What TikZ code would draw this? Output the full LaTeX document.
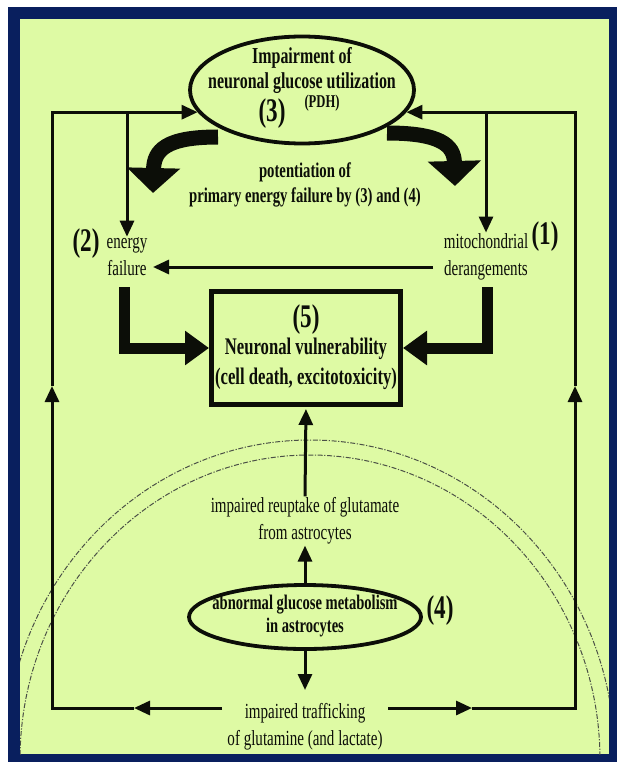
\documentclass[tikz,border=0pt]{standalone}
\usepackage{fontspec}
\setmainfont{Liberation Serif}
\newfontfamily\nrw[FakeStretch=0.7]{Liberation Serif}
\usetikzlibrary{arrows.meta,shapes.geometric}
\definecolor{panel}{RGB}{222,250,164}
\definecolor{frame}{RGB}{9,31,94}
\definecolor{ink}{RGB}{12,14,8}
\definecolor{arcgray}{RGB}{75,80,70}
\newcommand\txreg{\nrw\fontsize{21.5}{27}\selectfont}
\newcommand\txbold{\nrw\bfseries\fontsize{21}{24.5}\selectfont}
\newcommand\txtop{\nrw\bfseries\fontsize{22.8}{25}\selectfont}
\newcommand\txbox{\nrw\bfseries\fontsize{23.8}{30}\selectfont}
\newcommand\txoval{\nrw\bfseries\fontsize{20.8}{23}\selectfont}
\newcommand\txnum{\nrw\bfseries\fontsize{33}{30}\selectfont}
\newcommand\txtag{\nrw\bfseries\fontsize{18}{18}\selectfont}

\begin{document}
\begin{tikzpicture}[x=1pt,y=-1pt,
  fb/.style={line width=3pt, draw=ink},
  tipA/.style={-{Triangle[length=16pt,width=14pt]}},
  heavy/.style={line width=11pt, draw=ink, line join=miter,
    -{Triangle[length=24pt,width=33pt]}},
  bendarrow/.style={line width=15pt, draw=ink,
    -{Triangle[length=25pt,width=52pt]}},
  rg/.style={font=\txreg, text=ink, align=center, inner sep=1pt},
  bd/.style={font=\txbold, text=ink, align=center, inner sep=1pt},
  num/.style={font=\txnum, text=ink, inner sep=0pt},
  oval/.style={ellipse, draw=ink, line width=3.8pt, inner sep=0pt},
  dome/.style={draw=arcgray, line width=1pt,
    dash pattern=on 5pt off 1.6pt on 1.2pt off 1.6pt}]

\useasboundingbox (0,0) rectangle (617,762);
\fill[white] (0,0) rectangle (617,762);
\fill[frame] (8,7) rectangle (617,762);
\fill[panel] (20,19) rectangle (609,754);

% astrocyte boundary arcs
\begin{scope}
  \clip (20,19) rectangle (609,754);
  \draw[dome] (310,760) ellipse [x radius=305, y radius=320];
  \draw[dome] (310,760) ellipse [x radius=290, y radius=305];
\end{scope}

% top oval: impaired neuronal glucose utilization
\node[oval, minimum width=224pt, minimum height=107pt] (pdh) at (302,90) {};
\node[font=\txtop, text=ink, align=center, inner sep=0pt] (pdhtext) at (302,70)
  {Impairment of\\neuronal glucose utilization};
\node[num] (n3) at (272,114) {(3)};
\node[font=\txtag, text=ink, inner sep=0pt] (pdhtag) at (322,103) {(PDH)};

\node[bd] (pot) at (305,185) {potentiation of\\primary energy failure by (3) and (4)};

% side labels
\node[rg] (ef) at (127,257) {energy\\failure};
\node[num] (n2) at (86,244) {(2)};
\node[rg] (mito) at (486,257) {mitochondrial\\derangements};
\node[num] (n1) at (545,237) {(1)};

% central box
\node[draw=ink, line width=5pt, minimum width=189pt, minimum height=113pt,
  inner sep=0pt] (vuln) at (306,348) {};
\node[num] (n5) at (306,320) {(5)};
\node[font=\txbox, text=ink, align=center, inner sep=0pt] (vulntext) at (306,364)
  {Neuronal vulnerability\\(cell death, excitotoxicity)};

% astrocyte part
\node[rg] (reup) at (305,521) {impaired reuptake of glutamate\\from astrocytes};
\node[oval, minimum width=232pt, minimum height=64pt] (astro) at (305,617) {};
\node[font=\txoval, text=ink, align=center, inner sep=0pt] (astrotext) at (305,616)
  {abnormal glucose metabolism\\in astrocytes};
\node[num] (n4) at (440,611) {(4)};
\node[rg] (traf) at (305,727) {impaired trafficking\\of glutamine (and lactate)};

% feedback loop coordinates
\coordinate (lb) at (52,708);
\coordinate (rb) at (575,708);
\coordinate (lt) at (pdh.192 -| lb);
\coordinate (rt) at (pdh.-12 -| rb);
\coordinate (trafL) at (222,708);
\coordinate (trafR) at (388,708);
\coordinate (lhead) at (134,708);
\coordinate (rhead) at (472,708);
\coordinate (lup) at (52,386);
\coordinate (rup) at (575,386);
\coordinate (lbr) at (ef.north |- lt);
\coordinate (rbr) at (mito.north |- rt);
\coordinate (trafTop) at (305,690);

% left loop
\draw[fb,tipA] (trafL) -- (lhead);
\draw[fb,tipA] (lhead) -- (lb) -- (lup);
\draw[fb,tipA] (lup) -- (lt) -- (pdh.192);
\draw[fb,tipA] (lbr) -- (ef.north);
% right loop
\draw[fb,tipA] (trafR) -- (rhead);
\draw[fb,tipA] (rhead) -- (rb) -- (rup);
\draw[fb,tipA] (rup) -- (rt) -- (pdh.-12);
\draw[fb,tipA] (rbr) -- (mito.north);

% mitochondria to energy failure
\coordinate (mx) at (433,267);
\coordinate (ex) at (153,267);
\draw[fb,tipA] (mx) -- (ex);

% heavy arrows into the box
\coordinate (efd) at (124,287);
\coordinate (mid) at (487,287);
\draw[heavy] (efd) |- (vuln.west);
\draw[heavy] (mid) |- (vuln.east);

% curved potentiation arrows
\coordinate (cL0) at (218,137);
\coordinate (cL1) at (153,193);
\draw[bendarrow] (cL0) .. controls (166,137) and (154,150) .. (cL1);
\coordinate (cR0) at (387,133);
\coordinate (cR1) at (455,186);
\draw[bendarrow] (cR0) .. controls (440,133) and (454,145) .. (cR1);

% centre column
\draw[fb,tipA,shorten >=2pt] (reup.north) -- (vuln.south);
\draw[fb,tipA] (astro.north) -- (reup.south);
\draw[fb,tipA] (astro.south) -- (trafTop);
\end{tikzpicture}
\end{document}
